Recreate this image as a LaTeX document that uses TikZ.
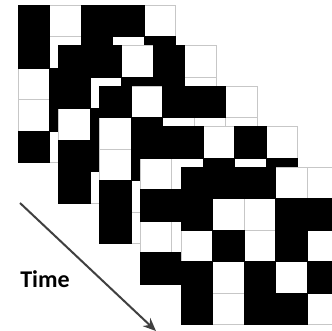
\documentclass[tikz,border=0pt]{standalone}
\usepackage{fontspec}
\setmainfont{Carlito}
\usetikzlibrary{arrows.meta}

\begin{document}
\begin{tikzpicture}[
    x=1pt, y=-1pt,
    cellbox/.style={
        draw=black!22,
        fill=white,
        line width=0.9pt
    },
    darkcell/.style={
        draw=black,
        fill=black,
        line width=0.9pt
    },
    label/.style={
        font=\fontsize{24}{28}\selectfont\bfseries,
        text=black,
        inner sep=0pt
    },
    arrow/.style={
        -{Stealth[length=13pt,width=11pt]},
        line width=2pt,
        draw=black!75
    }
]
    \useasboundingbox (0,0) rectangle (332,331);
    \clip (0,0) rectangle (332,331);

    % Frames (row/column of the black cells)
    \foreach \k/\blacks in {
        0/{1/1,1/3,1/4,2/1,2/3,2/5,3/2,4/2,5/1},
        1/{1/1,1/2,1/4,2/1,2/3,2/4,3/2,4/1,4/2,5/1},
        2/{1/1,1/3,1/4,2/2,3/2,4/1,5/1},
        3/{1/1,1/2,1/4,2/3,2/5,3/1,3/2,5/1,5/2},
        4/{1/1,1/2,1/3,2/1,2/4,2/5,3/2,3/4,4/1,4/3,4/5,5/1,5/3,5/4}}{
        \pgfmathsetmacro{\ox}{18+40.75*\k}
        \pgfmathsetmacro{\oy}{5+40.5*\k}
        \foreach \r in {1,...,5}
            \foreach \c in {1,...,5}
                \draw[cellbox] (\ox+31.5*\c-31.5, \oy+31.5*\r-31.5) rectangle ++(31.5,31.5);
        \foreach \r/\c in \blacks
            \draw[darkcell] (\ox+31.5*\c-31.5, \oy+31.5*\r-31.5) rectangle ++(31.5,31.5);
    }

    % Label
    \node (time) [label] at (45,279) {Time};

    % Arrow
    \coordinate (start) at (20,203);
    \coordinate (finish) at (156,331);
    \draw [arrow] (start) -- (finish);

\end{tikzpicture}
\end{document}
